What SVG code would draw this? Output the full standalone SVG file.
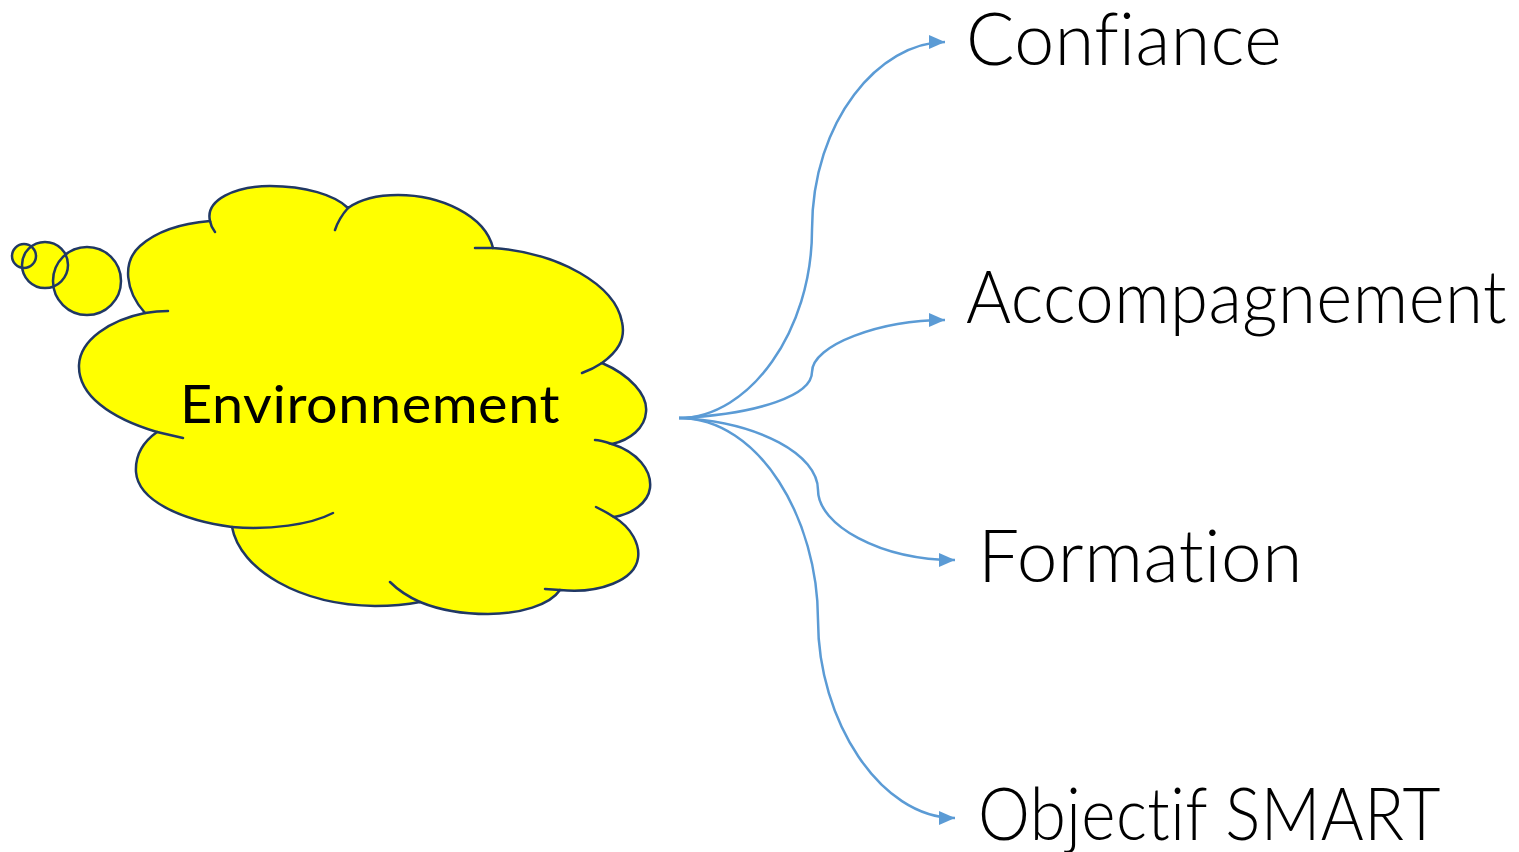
<svg xmlns="http://www.w3.org/2000/svg" width="1519" height="852" viewBox="0 0 1519 852">
<style>
.fill{fill:#FFFF00;stroke:none}
.ol{fill:none;stroke:#203864;stroke-width:2.5;stroke-linecap:round}
.conn{fill:none;stroke:#5B9BD5;stroke-width:2.5}
text{font-variant-ligatures:none;font-feature-settings:"liga" 0,"clig" 0;letter-spacing:0.5px}
.lbl{font-family:Lato,"Open Sans","Liberation Sans",sans-serif;font-weight:300;font-size:72px;fill:#000}
.cl{font-family:Lato,"Open Sans","Liberation Sans",sans-serif;font-size:52px;fill:#000}
</style>
<defs>
<marker id="arr" viewBox="0 0 16 14" refX="16" refY="7" markerWidth="16" markerHeight="14" markerUnits="userSpaceOnUse" orient="auto">
<path d="M0,0 L16,7 L0,14 Z" fill="#5B9BD5"/>
</marker>
<path id="cloudpath" d="M145,313 C125,291 122,262 140,246 C158,230 185,223 210,221 C205,200 235,186 270,186 C305,186 335,195 348,208 C362,198 378,195 398,195 C440,195 485,215 493,248 C560,253 615,285 622,322 C626,340 617,352 602,363 C630,375 648,395 646,412 C645,428 630,440 612,444 C637,452 652,470 650,488 C648,503 632,514 614,517 C632,528 640,545 638,558 C635,580 600,594 560,590 C550,605 520,614 488,614 C460,614 437,609 420,602 C405,605 392,606 375,606 C300,605 240,570 232,527 C180,520 138,500 136,472 C135,455 143,442 157,432 C110,418 78,395 79,365 C80,340 110,320 145,313 Z"/>
</defs>
<g id="cloud">
<circle class="fill" cx="24" cy="256" r="12"/>
<circle class="fill" cx="45" cy="265" r="23"/>
<circle class="fill" cx="87" cy="281" r="34"/>
<use href="#cloudpath" class="fill"/>
<circle class="ol" cx="24" cy="256" r="12"/>
<circle class="ol" cx="45" cy="265" r="23"/>
<circle class="ol" cx="87" cy="281" r="34"/>
<use href="#cloudpath" class="ol"/>
<path class="ol" d="M210,221 Q211,227 215,232 M348,208 Q339,218 335,230 M493,248 L475,248 M602,363 Q593,369 582,373 M612,444 C606,442 600,440 595,440 M614,517 Q606,512 596,507 M560,590 L545,589 M420,602 Q402,594 390,582 M232,527 C270,530 310,525 333,513 M157,432 Q170,435 183,438 M145,313 Q157,311 168,311"/>
<text class="cl" x="180" y="423" textLength="380" lengthAdjust="spacingAndGlyphs">Environnement</text>
</g>
<g id="connectors">
<path class="conn" marker-end="url(#arr)" d="M679,418 C750,418 812,330 812,230 C812,120 880,42 945,42"/>
<path class="conn" marker-end="url(#arr)" d="M679,418 C760,414 812,395 812,372 C812,345 880,320 945,320"/>
<path class="conn" marker-end="url(#arr)" d="M679,418 C760,422 818,455 818,490 C818,525 880,560 955,560"/>
<path class="conn" marker-end="url(#arr)" d="M679,418 C760,418 818,520 818,620 C818,720 880,818 955,818"/>
</g>
<g id="n-confiance"><text class="lbl" x="966" y="65" textLength="316" lengthAdjust="spacingAndGlyphs">Confiance</text></g>
<g id="n-accompagnement"><text class="lbl" x="966" y="323" textLength="541" lengthAdjust="spacingAndGlyphs">Accompagnement</text></g>
<g id="n-formation"><text class="lbl" x="978" y="582" textLength="325" lengthAdjust="spacingAndGlyphs">Formation</text></g>
<g id="n-objectif"><text class="lbl" x="978" y="840" textLength="463" lengthAdjust="spacingAndGlyphs">Objectif SMART</text></g>
</svg>
